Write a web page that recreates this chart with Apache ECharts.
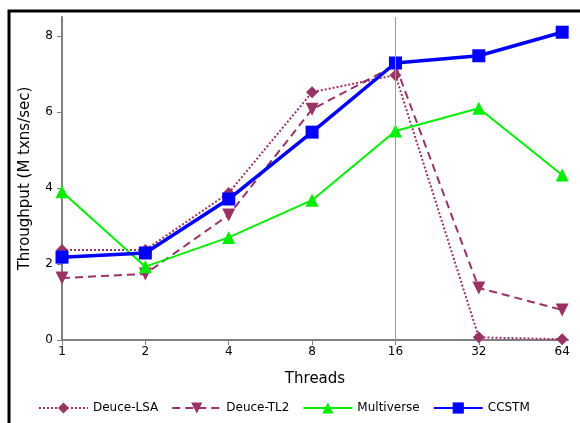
<!DOCTYPE html>
<html>
<head>
<meta charset="utf-8">
<script src="https://cdn.jsdelivr.net/npm/echarts@6/dist/echarts.min.js"></script>
<style>
  html, body { margin: 0; padding: 0; background: #fff; }
  #main { width: 580px; height: 423px; }
</style>
</head>
<body>
<div id="main"></div>
<script>
// thread counts, plotted at evenly spaced positions (log2)
const threads = [1, 2, 4, 8, 16, 32, 64];
const deuceLSA = [2.37, 2.37, 3.87, 6.52, 6.97, 0.07, 0.02];
const deuceTL2 = [1.63, 1.74, 3.29, 6.07, 7.23, 1.37, 0.79];
const multiverse = [3.9, 1.93, 2.7, 3.68, 5.5, 6.1, 4.34];
const ccstm = [2.18, 2.29, 3.71, 5.47, 7.29, 7.48, 8.1];
const yTicks = [0, 2, 4, 6, 8];

const chartDom = document.getElementById("main");
const myChart = echarts.init(chartDom);

const font = "DejaVu Sans";
const deuceColor = "#993366";

const pts = (vals) => vals.map((v, i) => [Math.log2(threads[i]), v]);

const option = {
  animation: false,
  textStyle: { fontFamily: font },
  grid: { left: 62, right: 12, top: 17, bottom: 83 },
  xAxis: {
    type: "value",
    min: 0,
    max: 6.07,
    interval: 1,
    splitLine: { show: false },
    axisLine: { lineStyle: { color: "#808080", width: 2 } },
    axisTick: { show: true, length: 5, lineStyle: { color: "#808080" }, customValues: [0, 1, 2, 3, 4, 5, 6] },
    axisLabel: {
      color: "#000",
      fontSize: 12,
      fontFamily: font,
      margin: 6,
      customValues: [0, 1, 2, 3, 4, 5, 6],
      formatter: (v) => String(threads[Math.round(v)])
    },
    name: "Threads",
    nameLocation: "middle",
    nameGap: 32,
    nameTextStyle: { color: "#000", fontSize: 15, fontFamily: font }
  },
  yAxis: {
    type: "value",
    min: 0,
    max: 8.5,
    splitLine: { show: false },
    axisLine: { show: true, lineStyle: { color: "#808080", width: 2 } },
    axisTick: { show: true, length: 5, lineStyle: { color: "#808080" }, customValues: yTicks },
    axisLabel: { color: "#000", fontSize: 12, fontFamily: font, margin: 9, customValues: yTicks },
    name: "Throughput (M txns/sec)",
    nameLocation: "middle",
    nameGap: 29,
    nameTextStyle: { color: "#000", fontSize: 15, fontFamily: font }
  },
  legend: {
    bottom: 4,
    left: 33,
    itemWidth: 49,
    itemHeight: 14,
    itemGap: 13,
    textStyle: { color: "#000", fontSize: 12, fontFamily: font },
    data: ["Deuce-LSA", "Deuce-TL2", "Multiverse", "CCSTM"]
  },
  graphic: [
    {
      type: "rect",
      shape: { x: 9, y: 11, width: 700, height: 500 },
      style: { fill: "none", stroke: "#000", lineWidth: 3 },
      silent: true
    }
  ],
  series: [
    {
      name: "Deuce-LSA",
      type: "line",
      data: pts(deuceLSA),
      symbol: "diamond",
      symbolSize: 12,
      color: deuceColor,
      lineStyle: { width: 2, type: [2, 2] },
      markLine: {
        silent: true,
        symbol: "none",
        label: { show: false },
        lineStyle: { color: "#999", width: 1, type: "solid" },
        data: [{ xAxis: 4 }]
      }
    },
    {
      name: "Deuce-TL2",
      type: "line",
      data: pts(deuceTL2),
      symbol: "triangle",
      symbolRotate: 180,
      symbolSize: 13,
      color: deuceColor,
      lineStyle: { width: 2, type: [8, 5] }
    },
    {
      name: "Multiverse",
      type: "line",
      data: pts(multiverse),
      symbol: "triangle",
      symbolSize: 13,
      color: "#00ee00",
      lineStyle: { width: 2 }
    },
    {
      name: "CCSTM",
      type: "line",
      data: pts(ccstm),
      symbol: "rect",
      symbolSize: 13,
      color: "#0000ff",
      lineStyle: { width: 3.5 }
    }
  ]
};

myChart.setOption(option);
</script>
</body>
</html>
